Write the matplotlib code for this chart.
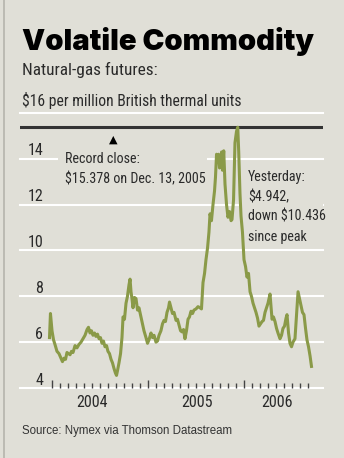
import numpy as np
import matplotlib
matplotlib.use('Agg')
import matplotlib.pyplot as plt
import matplotlib.patheffects as pe
from matplotlib import font_manager as fm
from matplotlib.patches import Rectangle
from matplotlib.transforms import blended_transform_factory

# Natural-gas futures, $ per million BTU (decimal years)
years = [2003.974, 2003.984, 2004.000, 2004.016, 2004.031, 2004.052, 2004.073, 2004.094,
         2004.109, 2004.125, 2004.141, 2004.156, 2004.172, 2004.188, 2004.203, 2004.219,
         2004.240, 2004.260, 2004.281, 2004.302, 2004.323, 2004.344, 2004.365, 2004.380,
         2004.396, 2004.411, 2004.427, 2004.443, 2004.458, 2004.474, 2004.490, 2004.505,
         2004.521, 2004.536, 2004.552, 2004.568, 2004.583, 2004.599, 2004.615, 2004.630,
         2004.646, 2004.661, 2004.672, 2004.682, 2004.698, 2004.714, 2004.729, 2004.740,
         2004.755, 2004.771, 2004.786, 2004.802, 2004.813, 2004.823, 2004.833, 2004.844,
         2004.859, 2004.875, 2004.891, 2004.906, 2004.927, 2004.943, 2004.958, 2004.979,
         2004.995, 2005.010, 2005.031, 2005.047, 2005.063, 2005.083, 2005.099, 2005.115,
         2005.135, 2005.151, 2005.167, 2005.182, 2005.198, 2005.214, 2005.224, 2005.240,
         2005.255, 2005.271, 2005.292, 2005.307, 2005.323, 2005.339, 2005.354, 2005.370,
         2005.385, 2005.401, 2005.417, 2005.432, 2005.448, 2005.464, 2005.479, 2005.500,
         2005.521, 2005.542, 2005.557, 2005.573, 2005.589, 2005.604, 2005.620, 2005.635,
         2005.646, 2005.661, 2005.677, 2005.693, 2005.703, 2005.714, 2005.724, 2005.734,
         2005.745, 2005.755, 2005.766, 2005.776, 2005.789, 2005.802, 2005.818, 2005.833,
         2005.849, 2005.865, 2005.875, 2005.891, 2005.906, 2005.922, 2005.935, 2005.945,
         2005.958, 2005.969, 2005.984, 2006.000, 2006.016, 2006.031, 2006.047, 2006.063,
         2006.078, 2006.094, 2006.109, 2006.125, 2006.141, 2006.156, 2006.172, 2006.188,
         2006.203, 2006.219, 2006.234, 2006.250, 2006.271, 2006.281, 2006.292, 2006.307,
         2006.323, 2006.339, 2006.354, 2006.375, 2006.391, 2006.406, 2006.422, 2006.438,
         2006.448, 2006.464, 2006.479, 2006.495, 2006.510, 2006.531, 2006.547, 2006.563,
         2006.578, 2006.594, 2006.609, 2006.625, 2006.641, 2006.656, 2006.672, 2006.688,
         2006.703]
prices = [6.2, 7.25, 6.5, 6.1, 5.9, 5.6, 5.5, 5.3,
          5.15, 5.3, 5.25, 5.55, 5.5, 5.45, 5.6, 5.55,
          5.85, 5.75, 5.9, 6.0, 6.15, 6.3, 6.55, 6.65,
          6.4, 6.5, 6.3, 6.4, 6.25, 6.35, 6.15, 6.2,
          5.95, 6.05, 5.8, 5.85, 5.6, 5.5, 5.25, 5.1,
          4.85, 4.65, 4.55, 4.75, 5.1, 5.5, 6.2, 7.1,
          7.0, 7.7, 8.0, 8.5, 8.75, 8.2, 7.9, 7.5,
          7.95, 7.9, 7.4, 7.5, 7.1, 6.8, 6.5, 6.2,
          5.95, 6.1, 6.4, 6.2, 6.3, 6.0, 6.05, 6.3,
          6.5, 6.8, 6.95, 6.9, 7.3, 7.5, 7.75, 7.5,
          7.25, 7.3, 6.95, 7.0, 6.75, 6.5, 6.45, 6.55,
          6.15, 6.5, 7.0, 7.1, 7.35, 7.25, 7.4, 7.45,
          7.55, 7.5, 7.45, 8.6, 9.0, 9.6, 10.1, 10.8,
          11.6, 11.3, 12.0, 12.6, 13.2, 14.2, 13.9, 14.2,
          13.6, 13.8, 14.3, 13.5, 14.35, 12.9, 12.0, 11.45,
          11.7, 11.3, 11.35, 12.2, 14.7, 15.2, 15.378, 14.3,
          12.5, 11.5, 10.8, 9.6, 9.3, 8.84, 9.0, 8.2,
          8.0, 7.7, 7.5, 7.3, 7.05, 6.7, 6.8, 6.9,
          6.95, 7.3, 7.5, 7.7, 8.1, 7.6, 7.0, 7.1,
          6.9, 6.6, 6.4, 6.15, 6.3, 6.6, 6.7, 7.05,
          7.2, 6.4, 5.95, 5.8, 6.0, 6.15, 7.2, 8.2,
          7.9, 7.6, 7.3, 7.2, 6.6, 6.1, 5.8, 5.4,
          4.942]
grid_levels = [4, 6, 8, 10, 12, 14]
year_labels = ['2004', '2005', '2006']
year_label_pos = [2004.417, 2005.51, 2006.34]
record_close = 15.378

bg = '#e0dfd7'
green = '#8a9a48'
ink = '#2a2a2a'

W, H = 344, 458
fig = plt.figure(figsize=(W / 100, H / 100), dpi=100)
fig.patch.set_facecolor(bg)


def fx(x):
    return x / W


def fy(y):
    return 1 - y / H


# choose fonts that exist
names = {f.name for f in fm.fontManager.ttflist}
cond = 'DejaVu Sans'
for n in ['Liberation Sans Narrow', 'Roboto Condensed', 'Open Sans Condensed']:
    if n in names:
        cond = n
        break
plain = 'Liberation Sans' if 'Liberation Sans' in names else 'DejaVu Sans'
heavy = None
for f in fm.fontManager.ttflist:
    if f.name in ('Lato', 'Roboto', 'Inter') and isinstance(f.weight, int) and f.weight >= 850:
        heavy = f.name
        break

ax = fig.add_axes([fx(20), fy(388), fx(323) - fx(20), fy(110) - fy(388)])
ax.set_facecolor('none')
ax.set_xlim(2003.6667, 2006.8229)
ax.set_ylim(4, 16.13)
for s in ax.spines.values():
    s.set_visible(False)

# white grid
for v in grid_levels + [16]:
    ax.axhline(v, color='white', lw=1.5, zorder=1, clip_on=False)
ax.axhline(record_close, color='#333333', lw=2.2, zorder=2)

# month ticks
ax.set_xticks([2004, 2005, 2006])
ax.set_xticks([y + m / 12 for y in (2004, 2005, 2006) for m in range(12)
               if y + m / 12 <= 2006.67], minor=True)
ax.tick_params(axis='x', which='major', direction='in', length=6, width=1,
               color='#444444', labelbottom=False)
ax.tick_params(axis='x', which='minor', direction='in', length=3.5, width=1,
               color='#444444')
ax.set_yticks([])

# boxes that interrupt the grid behind the notes
ax.add_patch(Rectangle((fx(58), fy(188)), fx(207) - fx(58), fy(139) - fy(188),
                       transform=fig.transFigure, facecolor=bg, edgecolor='none', zorder=1.5))
ax.add_patch(Rectangle((fx(242), fy(230)), fx(326) - fx(242), fy(166) - fy(230),
                       transform=fig.transFigure, facecolor=bg, edgecolor='none', zorder=1.5))

ax.plot(years, prices, color=green, lw=2.2, zorder=3, solid_joinstyle='round')

tr = blended_transform_factory(ax.transAxes, ax.transData)
for v in grid_levels:
    ax.text(0.076, v + 0.15, str(v), transform=tr, ha='right', va='baseline',
            family=cond, fontsize=11.5, color=ink)
trx = blended_transform_factory(ax.transData, fig.transFigure)
for p, t in zip(year_label_pos, year_labels):
    ax.text(p, fy(407), t, transform=trx, ha='center', va='baseline',
            family=cond, fontsize=11.5, color=ink)

fig.canvas.draw()
r = fig.canvas.get_renderer()


def fit(t, width):
    bb = t.get_window_extent(r)
    t.set_fontsize(t.get_fontsize() * width / bb.width)


# title and headings
if heavy:
    title = fig.text(fx(22), fy(50), 'Volatile Commodity', family=heavy, weight=900,
                     fontsize=22, color='black')
else:
    title = fig.text(fx(22), fy(50), 'Volatile Commodity', family='DejaVu Sans', weight='bold',
                     fontsize=22, color='black',
                     path_effects=[pe.withStroke(linewidth=1.2, foreground='black')])
fit(title, 291)
sub = fig.text(fx(22), fy(75), 'Natural-gas futures:', family=cond, fontsize=12, color=ink)
fit(sub, 135)
unit = fig.text(fx(22), fy(106), '$16 per million British thermal units', family=cond,
                fontsize=12, color=ink)
fit(unit, 220)
src = fig.text(fx(22), fy(434), 'Source: Nymex via Thomson Datastream', family=plain,
               fontsize=9, color='#333333')
fit(src, 211)

# notes
fig.text(fx(113), fy(140), '\u25b2', family='DejaVu Sans', fontsize=8, ha='center',
         va='center', color='black')
n1 = fig.text(fx(65), fy(163), 'Record close:', family=cond, fontsize=11.5, color=ink)
n2 = fig.text(fx(65), fy(183), '$15.378 on Dec. 13, 2005', family=cond, fontsize=11.5, color=ink)
fit(n2, 140)
n1.set_fontsize(n2.get_fontsize())
ys = [181, 201, 221, 241]
lines = ['Yesterday:', '$4.942,', 'down $10.436', 'since peak']
for yy, s in zip(ys, lines):
    fig.text(fx(248), fy(yy), s, family=cond, fontsize=n2.get_fontsize(), color=ink)

# left edge rule
fig.add_artist(plt.Line2D([fx(3.5), fx(3.5)], [0, 1], color='#b5b4ac', lw=1.2))

fig.savefig('out.png', dpi=100, facecolor=bg)
